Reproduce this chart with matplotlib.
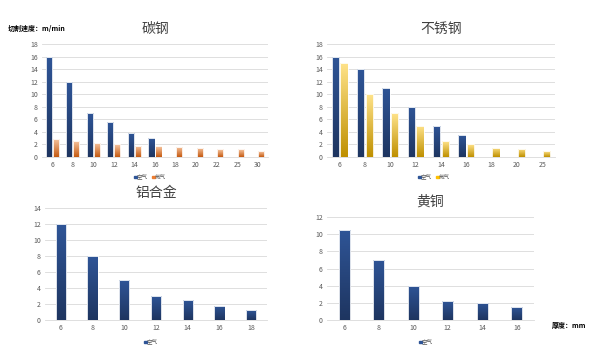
import numpy as np
import matplotlib
matplotlib.use('Agg')
import matplotlib.pyplot as plt
from matplotlib.colors import LinearSegmentedColormap

plt.rcParams['font.family'] = ['Noto Sans CJK SC', 'DejaVu Sans']

# 碳钢
cs_x = ['6', '8', '10', '12', '14', '16', '18', '20', '22', '25', '30']
cs_air = [16, 12, 7, 5.5, 3.8, 3]
cs_n2 = [2.9, 2.6, 2.3, 2.0, 1.8, 1.7, 1.6, 1.5, 1.2, 1.2, 0.9]
# 不锈钢
ss_x = ['6', '8', '10', '12', '14', '16', '18', '20', '25']
ss_air = [16, 14, 11, 8, 5, 3.5]
ss_n2 = [15, 10, 7, 5, 2.5, 2, 1.5, 1.3, 0.9]
# 铝合金
al_x = ['6', '8', '10', '12', '14', '16', '18']
al_air = [12, 8, 5, 3, 2.5, 1.8, 1.2]
# 黄铜
br_x = ['6', '8', '10', '12', '14', '16']
br_air = [10.5, 7, 4, 2.2, 2, 1.5]

blue_cm = LinearSegmentedColormap.from_list('b', ['#1e3560', '#2f5597'])
orange_cm = LinearSegmentedColormap.from_list('o', ['#c55a11', '#f8c8a4'])
gold_cm = LinearSegmentedColormap.from_list('g', ['#bf9000', '#ffe38a'])


def grad_bars(ax, xs, vals, width, cmap):
    bars = ax.bar(xs, vals, width=width, color='none', edgecolor='white', linewidth=0.6, zorder=3)
    grad = np.linspace(0, 1, 100).reshape(-1, 1)
    for b in bars:
        x0, y0 = b.get_x(), b.get_y()
        w, h = b.get_width(), b.get_height()
        im = ax.imshow(grad, cmap=cmap, origin='lower', aspect='auto',
                       extent=[x0, x0 + w, y0, y0 + h], zorder=2)
        im.set_clip_path(b)
    return bars


def style(ax, labels, ymax, step, title):
    ax.set_xlim(-0.5, len(labels) - 0.5)
    ax.set_ylim(0, ymax)
    ax.set_xticks(range(len(labels)))
    ax.set_xticklabels(labels)
    ax.set_yticks(np.arange(0, ymax + 0.1, step))
    ax.yaxis.grid(True, color='#d9d9d9', linewidth=0.6)
    ax.set_axisbelow(True)
    for s in ['top', 'right', 'left']:
        ax.spines[s].set_visible(False)
    ax.spines['bottom'].set_color('#d9d9d9')
    ax.spines['bottom'].set_linewidth(0.6)
    ax.tick_params(axis='both', length=0, labelsize=5, colors='#595959', pad=3)
    ax.set_title(title, fontsize=10, color='#404040', pad=8)


fig = plt.figure(figsize=(6, 3.61), dpi=100)
W, H = 600, 361


def add_ax(x0, x1, ytop, ybot):
    return fig.add_axes([x0 / W, 1 - ybot / H, (x1 - x0) / W, (ybot - ytop) / H])


def legend_item(x, y, color, text):
    fig.patches.append(plt.Rectangle((x / W, 1 - (y + 1.3) / H), 2.6 / W, 2.6 / H,
                                     transform=fig.transFigure, color=color, figure=fig))
    fig.text((x + 3) / W, 1 - y / H, text, fontsize=4, color='#595959', va='center')


w2 = 0.3
# 碳钢
ax1 = add_ax(42, 268, 44, 157)
xi = np.arange(len(cs_x))
grad_bars(ax1, xi[:len(cs_air)] - 0.17, cs_air, w2, blue_cm)
grad_bars(ax1, xi + 0.17, cs_n2, w2, orange_cm)
style(ax1, cs_x, 18, 2, '碳钢')
legend_item(134, 177, '#2f5597', '空气')
legend_item(152, 177, '#ed7d31', '氮气')
fig.text(8 / W, 1 - 28 / H, '切割速度：m/min', fontsize=5, fontweight='bold', va='center')

# 不锈钢
ax2 = add_ax(327, 555, 44, 157)
xi = np.arange(len(ss_x))
grad_bars(ax2, xi[:len(ss_air)] - 0.17, ss_air, w2, blue_cm)
grad_bars(ax2, xi + 0.17, ss_n2, w2, gold_cm)
style(ax2, ss_x, 18, 2, '不锈钢')
legend_item(418, 177, '#2f5597', '空气')
legend_item(436, 177, '#ffc000', '氮气')

# 铝合金
ax3 = add_ax(45, 267, 208, 320)
grad_bars(ax3, np.arange(len(al_x)), al_air, 0.32, blue_cm)
style(ax3, al_x, 14, 2, '铝合金')
legend_item(144, 342, '#2f5597', '空气')

# 黄铜
ax4 = add_ax(327, 534, 217, 320)
grad_bars(ax4, np.arange(len(br_x)), br_air, 0.32, blue_cm)
style(ax4, br_x, 12, 2, '黄铜')
ax4.title.set_position((0.5, 1.12))
legend_item(419, 342, '#2f5597', '空气')
fig.text(552 / W, 1 - 325 / H, '厚度：mm', fontsize=5, fontweight='bold', va='center')

fig.savefig('out.png', dpi=100)
